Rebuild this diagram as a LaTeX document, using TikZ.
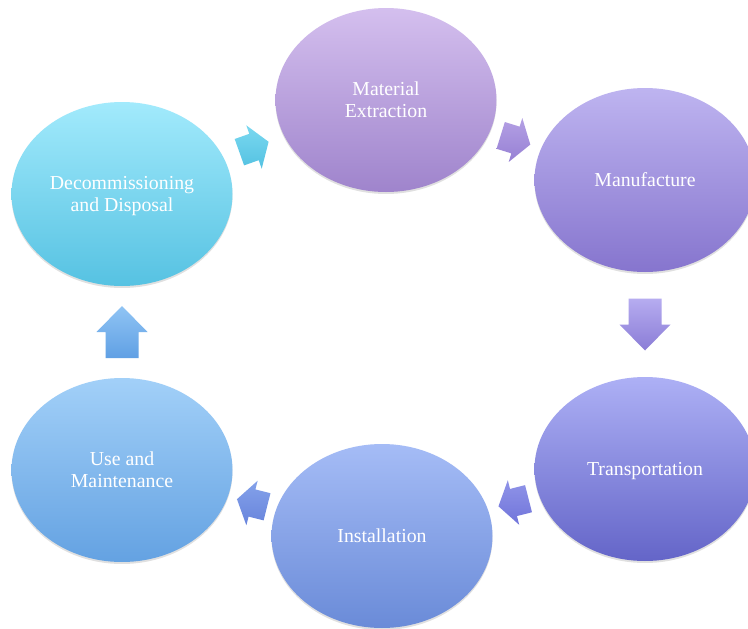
\documentclass[tikz,border=0pt]{standalone}
\usepackage{fontspec}
\setmainfont{Liberation Serif}
\usetikzlibrary{shapes.geometric,calc,shadows}
\tikzset{
  stage/.style={ellipse, minimum width=221pt, minimum height=184pt, inner sep=0pt,
    align=center, text=white, font=\fontsize{19.8}{22}\selectfont, text depth=0pt,
    drop shadow={opacity=0.12, shadow xshift=0pt, shadow yshift=-2pt, fill=black}},
  pics/bigarrow/.style={code={\path[pic actions] (-26,-16.5) -- (0,-16.5) -- (0,-25.5) -- (26,0) -- (0,25.5) -- (0,16.5) -- (-26,16.5) -- cycle;}},
  pics/smallarrow/.style={code={\path[pic actions] (-15.5,-14) -- (0,-14) -- (0,-23) -- (15.5,0) -- (0,23) -- (0,14) -- (-15.5,14) -- cycle;}},
}
\begin{document}
\begin{tikzpicture}[x=1pt,y=-1pt]
\clip (0,0) rectangle (748,629);
\fill[white] (0,0) rectangle (748,629);
\node[stage, top color={rgb,255:red,212;green,191;blue,238}, bottom color={rgb,255:red,159;green,132;blue,204}] (mat) at (386,100) {Material\\Extraction};
\node[stage, top color={rgb,255:red,190;green,180;blue,240}, bottom color={rgb,255:red,134;green,117;blue,206}] (man) at (645,180) {Manufacture};
\node[stage, top color={rgb,255:red,173;green,176;blue,245}, bottom color={rgb,255:red,100;green,101;blue,200}] (tra) at (645,469) {Transportation};
\node[stage, top color={rgb,255:red,165;green,188;blue,246}, bottom color={rgb,255:red,106;green,139;blue,216}] (ins) at (382,536) {Installation};
\node[stage, top color={rgb,255:red,162;green,208;blue,248}, bottom color={rgb,255:red,100;green,162;blue,226}] (use) at (122,470) {Use and\\Maintenance};
\node[stage, top color={rgb,255:red,162;green,234;blue,252}, bottom color={rgb,255:red,86;green,194;blue,226}] (dec) at (122,194) {Decommissioning\\and Disposal};
\pic[rotate=19.6, top color={rgb,255:red,122;green,216;blue,240}, bottom color={rgb,255:red,84;green,194;blue,226}] (a1) at ($(dec)!0.5!(mat)$) {smallarrow};
\pic[rotate=-17.2, top color={rgb,255:red,180;green,160;blue,228}, bottom color={rgb,255:red,150;green,128;blue,212}] (a2) at ($(mat)!0.5!(man)$) {smallarrow};
\pic[rotate=-90, top color={rgb,255:red,182;green,172;blue,240}, bottom color={rgb,255:red,138;green,124;blue,214}] (a3) at ($(man)!0.5!(tra)$) {bigarrow};
\pic[rotate=194.3, top color={rgb,255:red,144;green,148;blue,232}, bottom color={rgb,255:red,112;green,116;blue,218}] (a4) at ($(tra)!0.5!(ins)$) {smallarrow};
\pic[rotate=165.8, top color={rgb,255:red,132;green,162;blue,234}, bottom color={rgb,255:red,104;green,132;blue,220}] (a5) at ($(ins)!0.5!(use)$) {smallarrow};
\pic[rotate=90, top color={rgb,255:red,144;green,196;blue,244}, bottom color={rgb,255:red,96;green,160;blue,228}] (a6) at ($(use)!0.5!(dec)$) {bigarrow};
\end{tikzpicture}
\end{document}
